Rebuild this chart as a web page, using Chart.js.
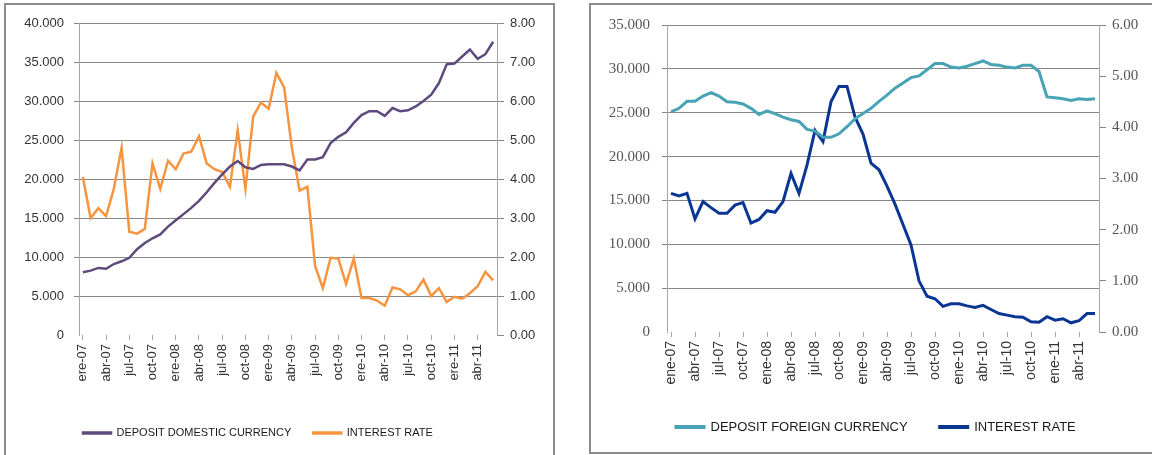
<!DOCTYPE html>
<html>
<head>
<meta charset="utf-8">
<script src="https://cdn.jsdelivr.net/npm/chart.js"></script>
<style>
  body { margin: 0; background: #fff; width: 1152px; height: 455px; overflow: hidden; position: relative; }
  .panel { position: absolute; border: 2px solid #8c8c8c; box-sizing: border-box; }
  #leftBox { left: 4px; top: 3px; width: 551px; height: 470px; }
  #rightBox { left: 589px; top: 3px; width: 580px; height: 451px; }
  canvas { position: absolute; }
  #leftChart { left: 5px; top: 4px; }
  #rightChart { left: 590px; top: 4px; }
</style>
</head>
<body>
<div class="panel" id="leftBox"></div>
<div class="panel" id="rightBox"></div>
<canvas id="leftChart" width="548" height="451"></canvas>
<canvas id="rightChart" width="560" height="448"></canvas>

<script>
// month names as printed on each chart (left one says "ere" for enero)
const monthsLeft = ['ere', 'feb', 'mar', 'abr', 'may', 'jun', 'jul', 'ago', 'sep', 'oct', 'nov', 'dic'];
const monthsRight = ['ene', 'feb', 'mar', 'abr', 'may', 'jun', 'jul', 'ago', 'sep', 'oct', 'nov', 'dic'];
const years = ['07', '08', '09', '10', '11'];
const monthCount = 54; // ene-07 .. jun-11

// deposits domestic currency (left axis) and interest rate (right axis)
const depositDomestic = [
  8050, 8250, 8600, 8500, 9100, 9450, 9900, 11000, 11800, 12400,
  12900, 13900, 14700, 15500, 16300, 17200, 18300, 19500, 20600, 21600,
  22300, 21500, 21300, 21800, 21900, 21900, 21900, 21600, 21100, 22500,
  22500, 22800, 24600, 25400, 26000, 27200, 28200, 28700, 28700, 28100,
  29100, 28700, 28800, 29300, 30000, 30800, 32300, 34700, 34800, 35700,
  36600, 35400, 36000, 37600
];
const rateDomestic = [
  4.05, 3.0, 3.25, 3.05, 3.75, 4.8, 2.65, 2.6, 2.72, 4.4,
  3.75, 4.47, 4.25, 4.65, 4.7, 5.1, 4.4, 4.25, 4.18, 3.8,
  5.25, 3.75, 5.6, 5.96, 5.8, 6.72, 6.35, 4.8, 3.7, 3.8,
  1.77, 1.2, 1.98, 1.96, 1.31, 1.96, 0.95, 0.95, 0.88, 0.75,
  1.22, 1.17, 1.02, 1.12, 1.42, 1.0, 1.2, 0.85, 0.98, 0.93,
  1.07, 1.25, 1.62, 1.4
];

// deposits foreign currency and its interest rate
const depositForeign = [
  25100, 25500, 26300, 26300, 26900, 27300, 26900, 26250, 26200, 26000,
  25500, 24800, 25200, 24900, 24500, 24200, 24000, 23100, 22900, 22200,
  22200, 22600, 23400, 24300, 24900, 25500, 26300, 27000, 27800, 28400,
  29000, 29200, 29900, 30600, 30600, 30200, 30100, 30300, 30600, 30900,
  30500, 30400, 30200, 30100, 30400, 30400, 29700, 26800, 26700, 26600,
  26400, 26600, 26500, 26600
];
const rateForeign = [
  2.71, 2.66, 2.71, 2.21, 2.55, 2.43, 2.32, 2.32, 2.48, 2.53,
  2.13, 2.2, 2.37, 2.34, 2.55, 3.1, 2.71, 3.26, 3.94, 3.72,
  4.5, 4.8, 4.8, 4.2, 3.87, 3.3, 3.17, 2.85, 2.5, 2.1,
  1.7, 1.0, 0.7, 0.65, 0.5, 0.55, 0.55, 0.51, 0.48, 0.52,
  0.44, 0.36, 0.33, 0.3, 0.29, 0.2, 0.19, 0.3, 0.23, 0.26,
  0.18, 0.22, 0.36, 0.36
];

function buildLabels(names) {
  const out = [];
  for (let i = 0; i < monthCount; i++) {
    out.push(names[i % 12] + '-' + years[Math.floor(i / 12)]);
  }
  return out;
}

const gridGray = '#878787';
const axisGray = '#a6a6a6';

// put the legend where excel had it
function legendAt(x, y, pad, fontSize) {
  return {
    id: 'legendAt',
    afterLayout(chart) {
      const lg = chart.legend;
      const w = lg.right - lg.left, h = lg.bottom - lg.top;
      lg.left = x - pad; lg.right = lg.left + w + 200;
      lg.top = y - pad - fontSize / 2; lg.bottom = lg.top + h;
    }
  };
}

function makeChart(el, cfg) {
  const thousands = v => v === 0 ? '0' : (v / 1000).toFixed(3);
  return new Chart(document.getElementById(el), {
    type: 'line',
    data: {
      labels: cfg.labels,
      datasets: [{
        label: cfg.names[0],
        data: cfg.deposit,
        yAxisID: 'y',
        borderColor: cfg.colors[0],
        backgroundColor: cfg.colors[0],
        borderWidth: cfg.lineWidth,
        pointRadius: 0,
        tension: 0
      }, {
        label: cfg.names[1],
        data: cfg.rate,
        yAxisID: 'y1',
        borderColor: cfg.colors[1],
        backgroundColor: cfg.colors[1],
        borderWidth: cfg.lineWidth,
        pointRadius: 0,
        tension: 0
      }]
    },
    options: {
      responsive: false,
      animation: false,
      layout: { padding: { left: 0, right: 0, top: cfg.top, bottom: cfg.bottom } },
      plugins: {
        legend: {
          position: 'bottom',
          align: 'start',
          labels: {
            boxWidth: 28,
            boxHeight: 1,
            padding: cfg.legendPad,
            color: '#1a1a1a',
            font: { family: 'Liberation Sans', size: cfg.legendSize }
          }
        },
        tooltip: { enabled: false }
      },
      scales: {
        x: {
          offset: true,
          border: { display: false },
          grid: {
            drawOnChartArea: false,
            tickLength: 5,
            color: c => c.index % 3 === 0 ? axisGray : 'transparent'
          },
          ticks: {
            autoSkip: false,
            maxRotation: 90,
            minRotation: 90,
            padding: 4,
            color: '#333',
            font: { family: 'Liberation Sans', size: cfg.xFont },
            callback: function (v, i) { return i % 3 === 0 ? this.getLabelForValue(v) : ''; }
          },
          afterFit: s => { s.height = 60; }
        },
        y: {
          position: 'left',
          min: 0, max: cfg.yMax,
          border: { color: axisGray },
          grid: {
            color: c => c.tick.value === 0 ? 'transparent' : gridGray,
            tickLength: 5
          },
          ticks: {
            stepSize: 5000,
            padding: cfg.yPad,
            color: cfg.yColor,
            font: { family: cfg.yFamily, size: cfg.yFont },
            callback: thousands
          },
          afterFit: s => { s.width = cfg.yWidth; }
        },
        y1: {
          position: 'right',
          min: 0, max: cfg.y1Max,
          border: { color: axisGray },
          grid: { drawOnChartArea: false, tickLength: 7, color: gridGray },
          ticks: {
            stepSize: 1,
            padding: 6,
            color: cfg.yColor,
            font: { family: cfg.yFamily, size: cfg.yFont },
            callback: v => v.toFixed(2)
          },
          afterFit: s => { s.width = cfg.y1Width; }
        }
      }
    },
    plugins: [legendAt(cfg.legendX, cfg.legendY, cfg.legendPad, cfg.legendSize)]
  });
}

makeChart('leftChart', {
  labels: buildLabels(monthsLeft),
  names: ['DEPOSIT DOMESTIC CURRENCY', 'INTEREST RATE'],
  deposit: depositDomestic,
  rate: rateDomestic,
  colors: ['#5f4a7d', '#f7943f'],
  lineWidth: 2.5,
  yMax: 40000, y1Max: 8,
  top: 19, bottom: 17,
  yWidth: 74, y1Width: 56, yPad: 10,
  yFamily: 'Liberation Sans', yFont: 13, yColor: '#333',
  xFont: 13,
  legendSize: 11, legendPad: 22,
  legendX: 78, legendY: 429
});

makeChart('rightChart', {
  labels: buildLabels(monthsRight),
  names: ['DEPOSIT FOREIGN CURRENCY', 'INTEREST RATE'],
  deposit: depositForeign,
  rate: rateForeign,
  colors: ['#48a3b6', '#0a3593'],
  lineWidth: 3,
  yMax: 35000, y1Max: 6,
  top: 18, bottom: 5,
  yWidth: 77, y1Width: 51, yPad: 12,
  yFamily: 'Liberation Serif', yFont: 15, yColor: '#555',
  xFont: 14,
  legendSize: 13, legendPad: 32,
  legendX: 86, legendY: 423
});
</script>
</body>
</html>
